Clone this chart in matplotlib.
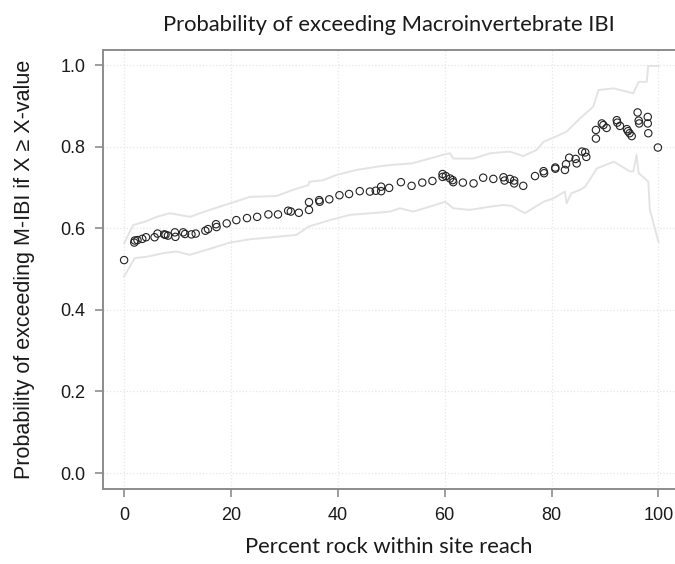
import matplotlib
matplotlib.use("Agg")
import matplotlib.pyplot as plt
import numpy as np

# observed points: percent rock vs probability of exceeding M-IBI
rock = [0, 1.9, 2.0, 2.5, 3.4, 4.1, 5.7, 6.25, 7.5, 7.75, 8.2, 9.5, 9.6, 11.05,
        11.4, 12.6, 13.4, 15.2, 15.7, 17.2, 17.3, 19.2, 21.0, 23.0,
        24.9, 27.0, 28.8, 30.7, 31.2, 32.7, 34.6, 34.6, 36.5, 36.6, 38.4,
        40.3, 42.1, 44.1, 46.0, 47.1, 48.1, 48.1, 49.6,
        51.8, 53.8, 55.8, 57.7, 59.6, 59.6, 60.2, 61.0, 61.5, 61.6, 63.4,
        65.4, 67.2, 69.1, 71.0, 71.2, 72.2, 73.0, 73.0, 74.7,
        76.9, 78.5, 78.6, 80.7, 80.7, 82.7, 82.5, 83.3, 84.5, 84.7, 85.7,
        86.3, 86.5, 88.3, 88.3, 89.4, 89.7, 90.3, 92.2, 92.3, 92.8, 94.1,
        94.3, 94.6, 95.0, 96.1, 96.3, 96.4, 98.0, 98.0, 98.1, 99.9]
prob = [0.522, 0.565, 0.570, 0.571, 0.574, 0.578, 0.578, 0.587, 0.585, 0.584,
        0.582, 0.590, 0.579, 0.590, 0.586, 0.585, 0.587, 0.594, 0.598, 0.610,
        0.603, 0.612, 0.620, 0.625,
        0.628, 0.634, 0.634, 0.643, 0.641, 0.638, 0.664, 0.645, 0.669, 0.665,
        0.671, 0.681, 0.684, 0.691, 0.690, 0.692, 0.702, 0.691, 0.699,
        0.713, 0.704, 0.712, 0.716, 0.733, 0.726, 0.728, 0.722, 0.718, 0.713,
        0.712, 0.710, 0.724, 0.721, 0.725, 0.717, 0.721, 0.717, 0.710, 0.704,
        0.728, 0.740, 0.735, 0.749, 0.746, 0.757, 0.743, 0.773, 0.770, 0.759,
        0.788, 0.786, 0.775, 0.841, 0.820, 0.857, 0.853, 0.846, 0.865, 0.859,
        0.851, 0.843, 0.838, 0.833, 0.826, 0.884, 0.864, 0.857, 0.873, 0.857,
        0.833, 0.798]

# upper and lower bounds
upper_x = [0, 1.7, 3.9, 6.1, 8.6, 12.3, 15.1, 19.8, 23.5, 28.5, 31.6, 34.5,
           34.7, 37.3, 39.8, 43.5, 47.9, 49.8, 53.8, 57.2, 59.7, 61.0, 61.6,
           65.4, 68.5, 72.2, 74.7, 77.2, 78.5, 81.0, 82.8, 85.3, 87.8, 88.8,
           91.6, 95.3, 96.3, 97.8, 98.1, 100]
upper_y = [0.563, 0.608, 0.616, 0.628, 0.637, 0.628, 0.641, 0.661, 0.677,
           0.679, 0.694, 0.706, 0.714, 0.718, 0.731, 0.743, 0.752, 0.755,
           0.759, 0.771, 0.780, 0.784, 0.771, 0.771, 0.784, 0.788, 0.777,
           0.792, 0.812, 0.826, 0.837, 0.869, 0.898, 0.939, 0.943, 0.931,
           0.959, 0.959, 0.998, 0.998]
lower_x = [0, 2.0, 4.2, 7.3, 9.8, 12.3, 15.4, 19.8, 23.5, 28.5, 32.3, 34.5,
           38.5, 42.3, 47.3, 49.8, 51.6, 54.1, 57.2, 60.1, 61.6, 64.7, 68.5,
           71.0, 72.5, 75.0, 78.5, 80.3, 82.5, 82.8, 83.7, 85.3, 86.3, 88.5,
           91.6, 92.2, 94.7, 95.3, 95.9, 96.3, 97.8, 98.1, 98.4, 100]
lower_y = [0.482, 0.527, 0.530, 0.539, 0.543, 0.535, 0.547, 0.565, 0.573,
           0.579, 0.584, 0.604, 0.620, 0.633, 0.638, 0.641, 0.649, 0.641,
           0.653, 0.665, 0.649, 0.645, 0.653, 0.657, 0.655, 0.637, 0.665,
           0.673, 0.690, 0.661, 0.686, 0.694, 0.702, 0.747, 0.763, 0.759,
           0.739, 0.740, 0.780, 0.735, 0.718, 0.714, 0.645, 0.567]

x_ticks = [0, 20, 40, 60, 80, 100]
y_ticks = [0.0, 0.2, 0.4, 0.6, 0.8, 1.0]

plt.rcParams["font.family"] = "Liberation Sans"
plt.rcParams["font.size"] = 13
label_font = "Lato"

fig = plt.figure(figsize=(6.75, 5.64), dpi=100)
ax = fig.add_axes([0.153, 0.1324, 0.847, 0.7789])

ax.plot(upper_x, upper_y, color="#e3e3e3", lw=1.4, zorder=2)
ax.plot(lower_x, lower_y, color="#e3e3e3", lw=1.4, zorder=2)
ax.scatter(rock, prob, s=28, facecolors="none", edgecolors="#222222",
           linewidths=0.8, zorder=3)

ax.set_xlim(-3.9, 103.1)
ax.set_ylim(-0.04, 1.037)
ax.set_xticks(x_ticks)
ax.set_yticks(y_ticks)
ax.set_xticklabels([str(t) for t in x_ticks])
ax.set_yticklabels(["%.1f" % t for t in y_ticks])
ax.grid(True, linestyle=":", color="#e6e6e6", linewidth=0.9)
ax.set_axisbelow(True)

for side in ["left", "bottom", "top"]:
    ax.spines[side].set_color("#8c8c8c")
    ax.spines[side].set_linewidth(1.4)
ax.spines["right"].set_visible(False)
ax.tick_params(colors="#8c8c8c", length=6, width=1.2, labelcolor="#1a1a1a",
               labelsize=13, pad=7)

ax.set_title("Probability of exceeding Macroinvertebrate IBI",
             family=label_font, fontsize=15.8, pad=14, color="#1a1a1a")
ax.set_xlabel("Percent rock within site reach", family=label_font,
              fontsize=15.8, labelpad=9, color="#1a1a1a")
ax.set_ylabel("Probability of exceeding M-IBI if X \u2265 X-value",
              family="Liberation Sans", fontsize=15.5, labelpad=18, color="#1a1a1a")

fig.savefig("out.png", dpi=100)
